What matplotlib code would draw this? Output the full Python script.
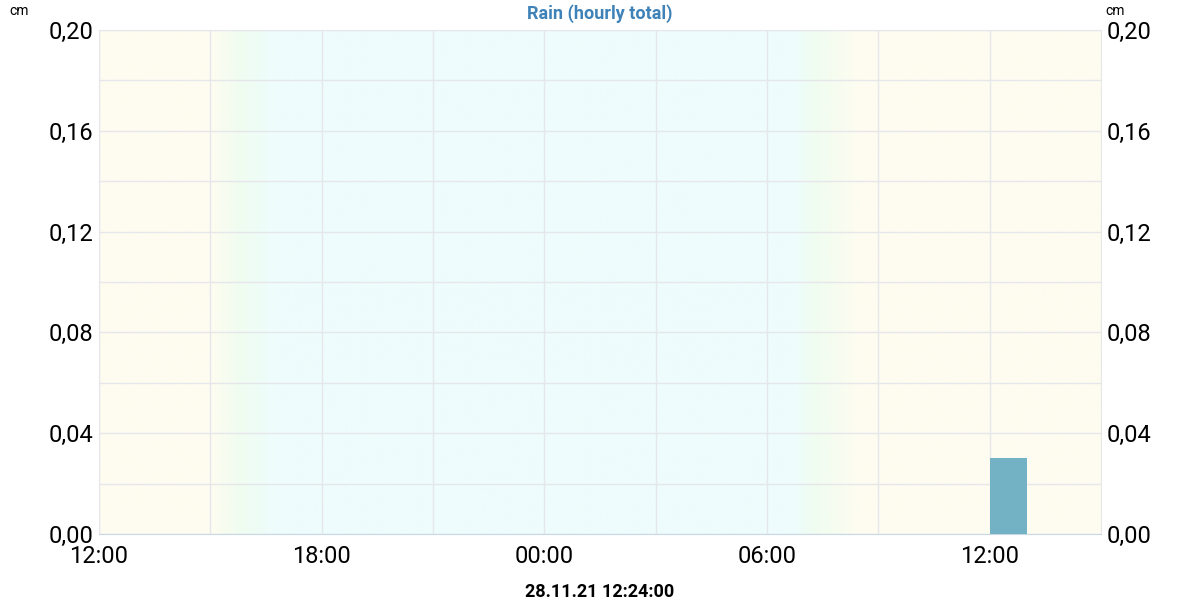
import matplotlib
matplotlib.use("Agg")
import matplotlib.pyplot as plt
import numpy as np
from matplotlib.colors import to_rgb

# hours since 27.11.21 12:00
start_hour = 0
end_hour = 27
rain_hours = list(range(27))
rain_cm = [0, 0, 0, 0, 0, 0, 0, 0, 0, 0, 0, 0, 0, 0, 0, 0, 0, 0, 0, 0, 0, 0, 0, 0, 0.03, 0, 0]

x_tick_hours = [0, 6, 12, 18, 24]
x_tick_labels = ['12:00', '18:00', '00:00', '06:00', '12:00']
y_ticks = [0.00, 0.04, 0.08, 0.12, 0.16, 0.20]
y_tick_labels = ['0,00', '0,04', '0,08', '0,12', '0,16', '0,20']

# background: day / twilight / night
bg_hours = [0, 3.0, 3.8, 4.75, 18.75, 19.3, 20.5, 27]
bg_colors = ['#fefcf0', '#fefcf0', '#f0fdf0', '#eefcfd', '#eefcfd', '#f0fdf0', '#fefcf0', '#fefcf0']

title = 'Rain (hourly total)'
stamp = '28.11.21 12:24:00'

plt.rcParams['font.family'] = ['Roboto', 'DejaVu Sans']

fig = plt.figure(figsize=(12, 6), dpi=100)
ax = fig.add_axes([0.0825, 0.11, 0.835, 0.84])

# gradient background
xs = np.linspace(start_hour, end_hour, 1200)
rgb = np.array([to_rgb(c) for c in bg_colors])
img = np.stack([np.interp(xs, bg_hours, rgb[:, i]) for i in range(3)], axis=-1)
ax.imshow(img[np.newaxis, :, :], extent=[start_hour, end_hour, 0, 0.2],
          aspect='auto', zorder=0, interpolation='bilinear')

ax.bar(rain_hours, rain_cm, width=1.0, align='edge', color='#73b1c4',
       linewidth=0, zorder=3)

ax.set_xlim(start_hour, end_hour)
ax.set_ylim(0, 0.2)

ax.set_xticks(x_tick_hours)
ax.set_xticklabels(x_tick_labels, fontsize=17)
ax.set_yticks(y_ticks)
ax.set_yticklabels(y_tick_labels, fontsize=17)
ax.set_xticks([3, 9, 15, 21], minor=True)
ax.set_yticks([0.02, 0.06, 0.10, 0.14, 0.18], minor=True)
ax.grid(True, which='both', color='#e6e7eb', linewidth=1)
ax.set_axisbelow(True)
ax.tick_params(which='both', length=0)
ax.tick_params(axis='x', pad=8)
ax.tick_params(axis='y', pad=4, labelright=True, labelleft=True)

for side in ['top', 'left', 'right']:
    ax.spines[side].set_color('#e6e7eb')
ax.spines['bottom'].set_color('#c8d8e4')

fig.text(0.5, 0.978, title, ha='center', va='center', fontsize=13,
         fontweight='bold', color='#3e82b8')
fig.text(0.008, 0.981, 'cm', ha='left', va='center', fontsize=10)
fig.text(0.921, 0.981, 'cm', ha='left', va='center', fontsize=10)
fig.text(0.5, 0.013, stamp, ha='center', va='center', fontsize=13, fontweight='bold')

fig.savefig('out.png', dpi=100)
